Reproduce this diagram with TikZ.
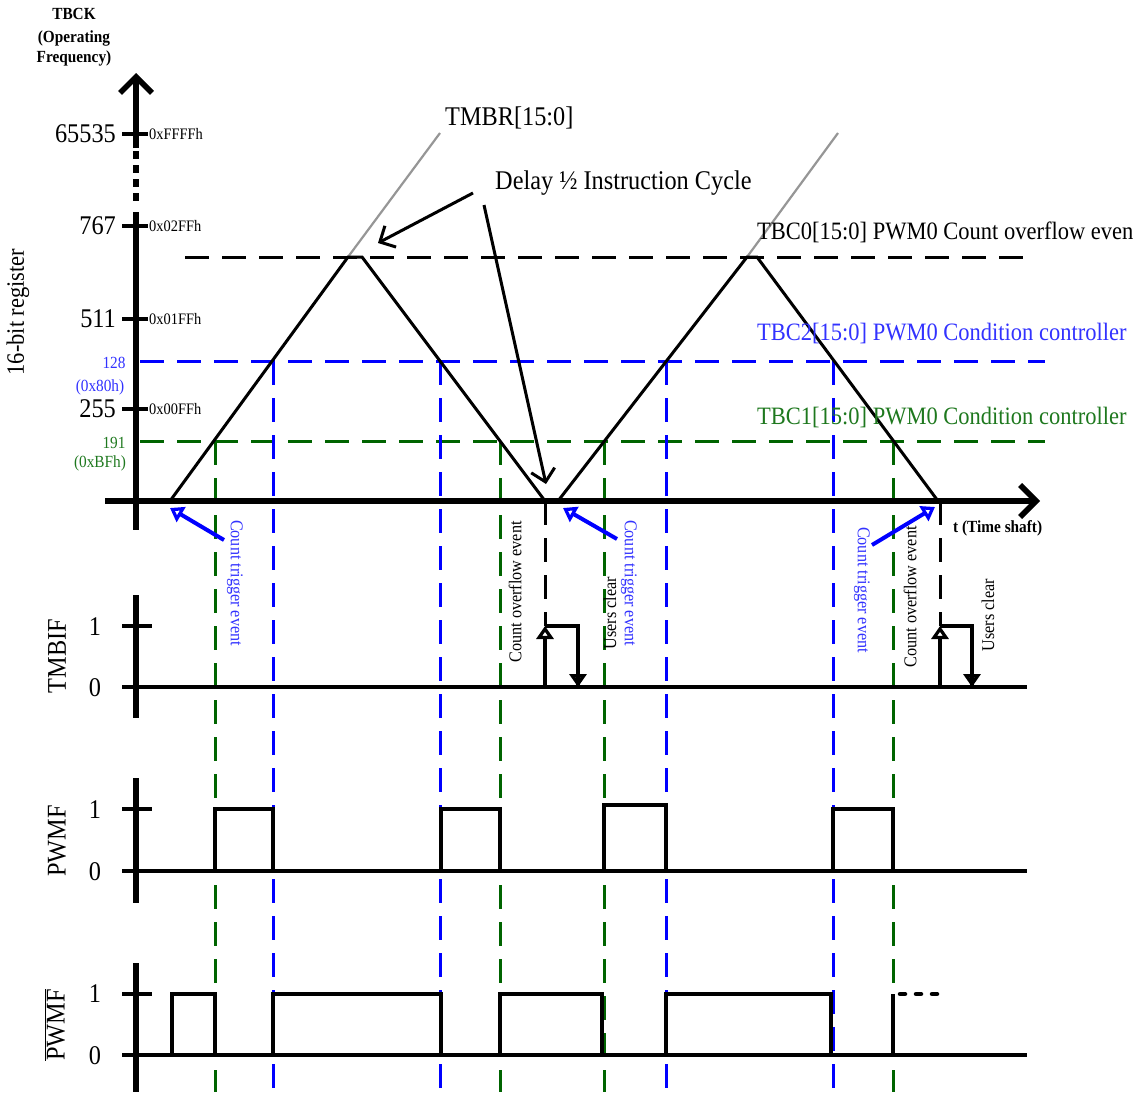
\documentclass[tikz,border=0pt]{standalone}
\usepackage{fontspec}
\setmainfont[FakeStretch=0.9]{Liberation Serif}
\usetikzlibrary{arrows.meta}
\definecolor{lblue}{RGB}{0,0,255}
\definecolor{tblue}{RGB}{50,50,255}
\definecolor{lgreen}{RGB}{0,100,0}
\definecolor{tgreen}{RGB}{30,120,30}
\definecolor{lgray}{RGB}{150,150,150}
\newcommand{\fsz}[1]{\fontsize{#1}{#1}\selectfont}
\begin{document}
\begin{tikzpicture}[x=1pt,y=-1pt,
  axisline/.style={line width=5.5pt},
  tickline/.style={line width=4pt},
  sigline/.style={line width=4.5pt, line join=miter},
  triline/.style={line width=3pt},
  bdash/.style={lblue, line width=3pt, dash pattern=on 24pt off 13pt},
  gdash/.style={lgreen, line width=3pt, dash pattern=on 24pt off 13pt},
  kdash/.style={black, line width=3pt, dash pattern=on 24pt off 13pt},
  bigtxt/.style={font=\fsz{27}, inner sep=0pt},
  hextxt/.style={font=\fsz{16}, inner sep=0pt, anchor=west},
  rtxt/.style={font=\fsz{25}, inner sep=0pt, anchor=west},
  evtxt/.style={font=\fsz{18}, inner sep=0pt},
  boldtxt/.style={font=\fsz{17}\bfseries, inner sep=0pt},
  axarrow/.style={-{Straight Barb[length=16pt,width=32pt]}},
  trigarrow/.style={lblue, line width=4pt, -{Triangle[open,length=13pt,width=17pt,line width=4pt]}},
  flagarrow/.style={line width=4.5pt, -{Triangle[open,length=13pt,width=17pt,line width=4pt]}},
  delayarrow/.style={line width=3pt, -{Straight Barb[length=12pt,width=24pt]}}
]
\useasboundingbox (0,0) rectangle (1148,1092);

% ---------- headings ----------
\node[boldtxt] (tbck) at (74,14) {TBCK};
\node[boldtxt] (opf1) at (74,38) {(Operating};
\node[boldtxt] (opf2) at (74,58) {Frequency)};
\node[bigtxt, font=\fsz{25}, rotate=90] (reg) at (18,312) {16-bit register};

% ---------- dashed reference lines (under) ----------
\coordinate (k0L) at (185,257); \coordinate (k0R) at (1030,257);
\coordinate (b0L) at (140,361); \coordinate (b0R) at (1045,361);
\coordinate (g0L) at (140,441); \coordinate (g0R) at (1045,441);
\draw[kdash] (k0L) -- (k0R);
\draw[bdash] (b0L) -- (b0R);
\draw[gdash] (g0L) -- (g0R);

% vertical blue / green dashed lines
\foreach \xx in {273,440,666,833} {\draw[bdash] (\xx,361) -- (\xx,1092);}
\foreach \xx in {215,500,604,893} {\draw[gdash] (\xx,441) -- (\xx,1092);}
% black dashed to TMBIF
\coordinate (ov1a) at (545,501); \coordinate (ov1b) at (545,626);
\coordinate (ov2a) at (940,501); \coordinate (ov2b) at (940,626);
\draw[kdash] (ov1a) -- (ov1b);
\draw[kdash] (ov2a) -- (ov2b);

% ---------- top axes ----------
\coordinate (yTop) at (136,73);
\coordinate (yA) at (136,148);
\coordinate (yB) at (136,151);
\coordinate (yC) at (136,206);
\coordinate (yD) at (136,212);
\coordinate (yBot) at (136,530);
\draw[axisline, axarrow] (yA) -- (yTop);
\draw[axisline, dash pattern=on 8pt off 6pt] (yB) -- (yC);
\draw[axisline] (yD) -- (yBot);
\coordinate (xL) at (105,501); \coordinate (xR) at (1040,501);
\draw[axisline, axarrow] (xL) -- (xR);
\node[boldtxt, anchor=west] (tshaft) at (953,528) {t (Time shaft)};

% ticks and labels
\foreach \yy/\dv/\hx in {134/65535/0xFFFFh, 226/767/0x02FFh, 319/511/0x01FFh, 409/255/0x00FFh} {
  \draw[tickline] (122,\yy) -- (148,\yy);
  \node[bigtxt, anchor=east] at (116,\yy) {\dv};
  \node[hextxt] at (149,\yy) {\hx};
}
\node[font=\fsz{17}, text=tblue, inner sep=0pt] (l128) at (114,363) {128};
\node[font=\fsz{17}, text=tblue, inner sep=0pt] (l80h) at (100,387) {(0x80h)};
\node[font=\fsz{17}, text=tgreen, inner sep=0pt] (l191) at (114,443) {191};
\node[font=\fsz{17}, text=tgreen, inner sep=0pt] (lBFh) at (100,463) {(0xBFh)};

% ---------- counter triangles ----------
\coordinate (t1s) at (170,501); \coordinate (t1p) at (348,257);
\coordinate (t1q) at (362,257); \coordinate (t1e) at (545,501);
\coordinate (t2s) at (558,501); \coordinate (t2p) at (747,257);
\coordinate (t2q) at (757,257); \coordinate (t2e) at (938,501);
\coordinate (gr1) at (440,133); \coordinate (gr2) at (838,133);
\draw[lgray, line width=2.2pt] (t1p) -- (gr1);
\draw[lgray, line width=2.2pt] (t2p) -- (gr2);
\draw[triline, line join=miter] (t1s) -- (t1p) -- (t1q) -- (t1e);
\draw[triline, line join=miter] (t2s) -- (t2p) -- (t2q) -- (t2e);

% labels top
\node[bigtxt, anchor=west] (tmbr) at (445,118) {TMBR[15:0]};
\node[bigtxt, anchor=west] (delay) at (495,183) {Delay ½ Instruction Cycle};
\coordinate (d1s) at (473,193); \coordinate (d1e) at (378,243);
\coordinate (d2s) at (484,205); \coordinate (d2e) at (546,484);
\draw[delayarrow] (d1s) -- (d1e);
\draw[delayarrow] (d2s) -- (d2e);

\node[rtxt] (tbc0) at (757,232) {TBC0[15:0] PWM0 Count overflow even};
\node[rtxt, text=tblue] (tbc2) at (757,333) {TBC2[15:0] PWM0 Condition controller};
\node[rtxt, text=tgreen] (tbc1) at (757,417) {TBC1[15:0] PWM0 Condition controller};

% trigger arrows
\coordinate (c1s) at (224,540); \coordinate (c1e) at (170,508);
\coordinate (c2s) at (617,539); \coordinate (c2e) at (563,508);
\coordinate (c3s) at (872,545); \coordinate (c3e) at (935,507);
\draw[trigarrow] (c1s) -- (c1e);
\draw[trigarrow] (c2s) -- (c2e);
\draw[trigarrow] (c3s) -- (c3e);

% event texts
\node[evtxt, text=tblue, rotate=-90] (ev1) at (235,583) {Count trigger event};
\node[evtxt, rotate=90] (ev2) at (515,592) {Count overflow event};
\node[evtxt, rotate=90] (ev3) at (610,613) {Users clear};
\node[evtxt, text=tblue, rotate=-90] (ev4) at (629,583) {Count trigger event};
\node[evtxt, text=tblue, rotate=-90] (ev5) at (862,590) {Count trigger event};
\node[evtxt, rotate=90] (ev6) at (910,597) {Count overflow event};
\node[evtxt, rotate=90] (ev7) at (988,615) {Users clear};

% ---------- TMBIF ----------
\draw[axisline] (136,595) -- (136,718);
\draw[tickline] (122,626) -- (152,626);
\draw[sigline] (122,687) -- (1027,687);
\node[bigtxt] at (95,627) {1};
\node[bigtxt] at (95,688) {0};
\node[bigtxt, rotate=90] (tmbif) at (57,656) {TMBIF};
\coordinate (f1a) at (545,687); \coordinate (f1b) at (545,626);
\coordinate (f1c) at (578,626); \coordinate (f1d) at (578,687);
\coordinate (f2a) at (940,687); \coordinate (f2b) at (940,626);
\coordinate (f2c) at (972,626); \coordinate (f2d) at (972,687);
\draw[sigline] (f1b) -- (f1c) -- (f1d);
\draw[sigline] (f2b) -- (f2c) -- (f2d);
\draw[flagarrow] (f1a) -- (f1b);
\draw[flagarrow] (f1c) -- (f1d);
\draw[flagarrow] (f2a) -- (f2b);
\draw[flagarrow] (f2c) -- (f2d);

% ---------- PWMF ----------
\draw[axisline] (136,778) -- (136,903);
\draw[tickline] (122,809) -- (152,809);
\draw[sigline] (122,871) -- (1027,871);
\node[bigtxt] at (95,810) {1};
\node[bigtxt] at (95,872) {0};
\node[bigtxt, rotate=90] (pwmf) at (57,841) {PWMF};
\draw[sigline] (215,871) -- (215,809) -- (273,809) -- (273,871);
\draw[sigline] (441,871) -- (441,809) -- (500,809) -- (500,871);
\draw[sigline] (604,871) -- (604,805) -- (666,805) -- (666,871);
\draw[sigline] (833,871) -- (833,809) -- (893,809) -- (893,871);

% ---------- PWMF bar ----------
\draw[axisline] (136,963) -- (136,1092);
\draw[tickline] (122,994) -- (152,994);
\draw[sigline] (122,1055) -- (1027,1055);
\node[bigtxt] at (95,994) {1};
\node[bigtxt] at (95,1056) {0};
\node[bigtxt, rotate=90] (pwmfb) at (55,1025) {$\overline{\hbox{PWMF}}$};
\draw[sigline] (172,1055) -- (172,994) -- (215,994) -- (215,1055);
\draw[sigline] (273,1055) -- (273,994) -- (441,994) -- (441,1055);
\draw[sigline] (500,1055) -- (500,994) -- (602,994) -- (602,1055);
\draw[sigline] (666,1055) -- (666,994) -- (831,994) -- (831,1055);
\draw[sigline] (893,1055) -- (893,994);
\draw[line width=4.5pt, line cap=round, dash pattern=on 5pt off 11pt] (900,994) -- (937,994);
\end{tikzpicture}
\end{document}
